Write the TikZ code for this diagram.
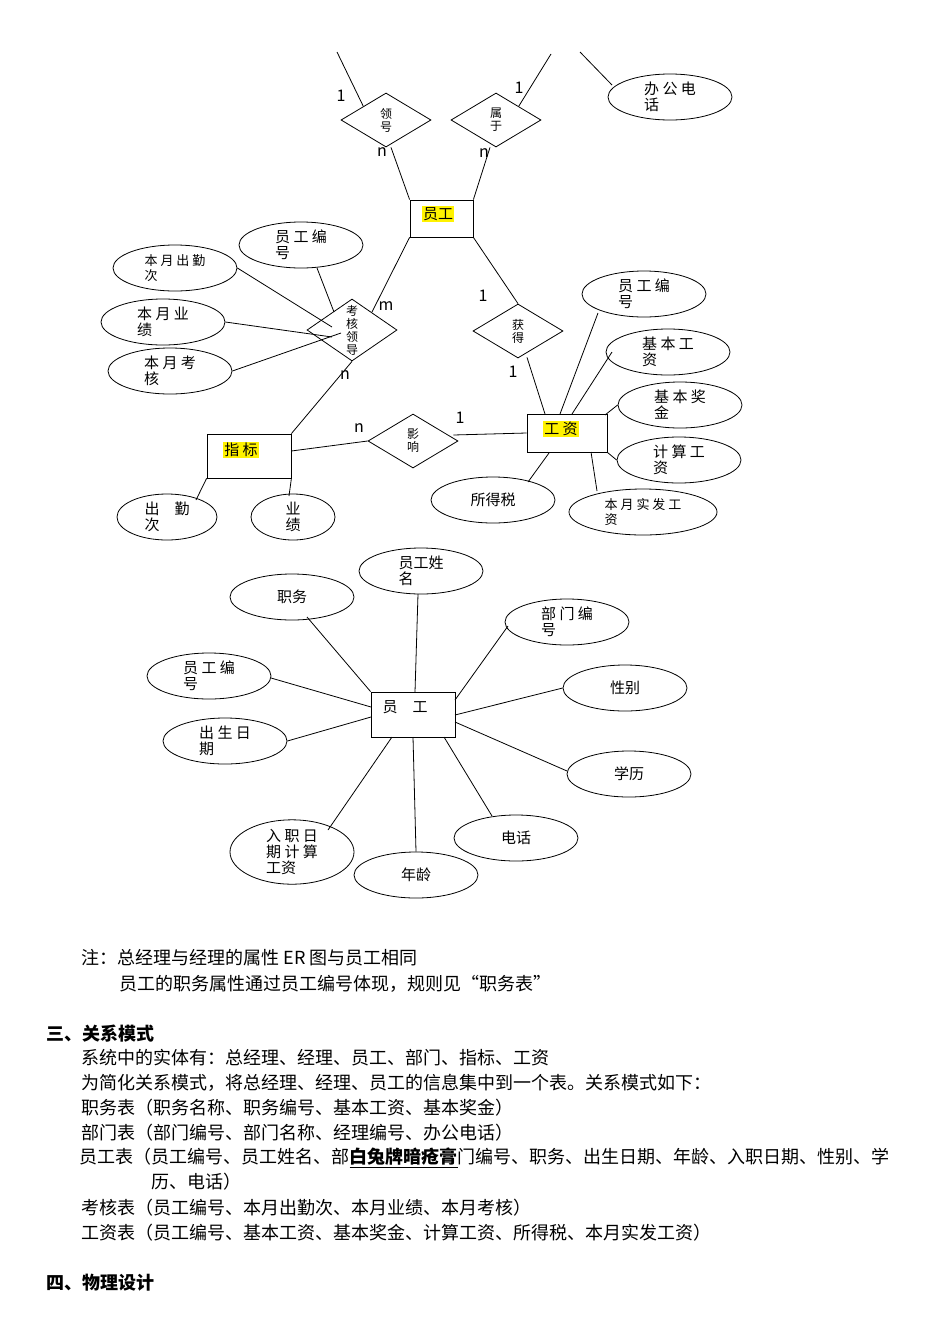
\documentclass[tikz,border=0pt]{standalone}
\usepackage{fontspec}
\setmainfont{Noto Sans CJK SC}
\usetikzlibrary{shapes.geometric}
\begin{document}
\begin{tikzpicture}[x=1pt,y=-1pt,line width=0.8pt,
  ell/.style={draw,ellipse,minimum width=124pt,minimum height=46pt,inner sep=0pt,font=\fontsize{15}{16}\selectfont,align=left},
  dia/.style={draw,diamond,minimum width=90pt,minimum height=54pt,inner sep=0pt,font=\fontsize{12}{13}\selectfont,align=center},
  ent/.style={draw,rectangle,inner sep=0pt},
  hl/.style={fill=yellow,inner sep=1pt,font=\fontsize{15}{17}\selectfont},
  card/.style={font=\fontsize{16}{17}\selectfont\rmfamily},
  txt/.style={anchor=west,font=\fontsize{18}{20}\selectfont}]
\useasboundingbox (0,0) rectangle (950,1344);
% ---------- top diagram ----------
\coordinate (t1) at (337,52); \coordinate (t2) at (551,54); \coordinate (t3) at (580,52);
\node[dia] (ld) at (386,120) {领\\号};
\node[dia] (sy) at (496,120) {属\\于};
\node[ell] (bg) at (670,97) {办 公 电\\话};
\node[ent,minimum width=63pt,minimum height=37pt] (yg) at (441.5,218.5) {};
\node[hl] at (438,214) {员工};
\draw (t1) -- (ld.north west);
\draw (t2) -- (sy.north east);
\draw (t3) -- (612,85);
\draw (ld.south) ++(5,0) coordinate (ldb) (ldb) -- (yg.north west);
\draw (sy.south) ++(-6,0) coordinate (syb) (syb) -- (yg.north east);
\node[card] at (341,96) {1};
\node[card] at (382,152) {n};
\node[card] at (519,88) {1};
\node[card] at (484,153) {n};
\node[dia] (kh) at (352,330) {考\\核\\领\\导};
\node[ell] (e1) at (301,245) {员 工 编\\号};
\node[ell,font=\fontsize{13}{15}\selectfont] (e2) at (175,268) {本 月 出 勤\\次};
\node[ell] (e3) at (163,322) {本 月 业\\绩};
\node[ell] (e4) at (170,371) {本 月 考\\核};
\draw (yg.south west) -- (372,312);
\node[card] at (386,306) {m};
\draw (317,268) -- (334,312);
\draw (e2.east) -- (332,327);
\draw (e3.east) -- (332,337);
\draw (e4.east) -- (341,333);
\node[ent,minimum width=84pt,minimum height=44pt] (zb) at (249,456) {};
\node[hl] at (241,450) {指 标};
\draw (kh.south) -- (zb.north east);
\node[card] at (345,375) {n};
\node[dia] (yx) at (413,441) {影\\响};
\node[ent,minimum width=80pt,minimum height=38pt] (gz) at (567,433) {};
\node[hl] at (561,429) {工 资};
\draw (zb.east) ++(0,-5) -- (yx.west);
\draw (yx.east) ++(-5,-6) coordinate (yxe) (yxe) -- (gz.west);
\node[card] at (359,428) {n};
\node[card] at (460,418) {1};
\node[dia] (hd) at (518,331) {获\\得};
\draw (yg.south east) -- (hd.north);
\draw (hd.south) ++(9,-1) coordinate (hdb) (hdb) -- (545,414);
\node[card] at (483,296) {1};
\node[card] at (513,372) {1};
\node[ell] (r1) at (644,294) {员 工 编\\号};
\node[ell] (r2) at (668,352) {基 本 工\\资};
\node[ell] (r3) at (680,405) {基 本 奖\\金};
\node[ell] (r4) at (679,460) {计 算 工\\资};
\node[ell] (r5) at (493,500) {所得税};
\node[ell,minimum width=148pt,font=\fontsize{13}{15}\selectfont] (r6) at (643,512) {本 月 实 发 工\\资};
\draw (598,313) -- (560,414);
\draw (612,352) -- (572,414);
\draw (r3.west) -- (605,415);
\draw (gz.south east) -- (r4.west);
\draw (549,453) -- (528,482);
\draw (591,452) -- (597,491);
\node[ell,minimum width=100pt] (b1) at (167,517) {出　勤\\次};
\node[ell,minimum width=84pt] (b2) at (293,517) {业\\绩};
\draw (zb.south west) -- (196,500);
\draw (zb.south east) -- (289,496);
% ---------- second diagram ----------
\node[ent,minimum width=84pt,minimum height=45pt] (y2) at (413,714.5) {};
\node[font=\fontsize{15}{17}\selectfont] at (405,707) {员　工};
\node[ell] (f1) at (292,597) {职务};
\node[ell] (f2) at (421,571) {员工姓\\名};
\node[ell] (f3) at (567,622) {部 门 编\\号};
\node[ell] (f4) at (625,688) {性别};
\node[ell] (f5) at (629,774) {学历};
\node[ell] (f6) at (516,838) {电话};
\node[ell] (f7) at (416,875) {年龄};
\node[ell] (f8) at (292,852) {入 职 日\\期 计 算\\工资};
\node[ell] (f9) at (225,741) {出 生 日\\期};
\node[ell] (f10) at (209,676) {员 工 编\\号};
\draw (307,617) -- (y2.north west);
\draw (418,594) -- (415,692);
\draw (508,626) -- (455,700);
\draw (f4.west) -- (455,715);
\draw (567,771) -- (455,722);
\draw (492,816) -- (444,737);
\draw (f7.north) -- (413,737);
\draw (328,830) -- (392,737);
\draw (f9.east) -- (371,717);
\draw (271,678) -- (371,707);
% ---------- text ----------
\node[txt] at (78,958) {注：总经理与经理的属性 ER 图与员工相同};
\node[txt] at (116,984) {员工的职务属性通过员工编号体现，规则见“职务表”};
\node[txt,font=\fontsize{18}{20}\selectfont\bfseries] at (43,1034) {三、关系模式};
\node[txt] at (78,1058) {系统中的实体有：总经理、经理、员工、部门、指标、工资};
\node[txt] at (78,1083) {为简化关系模式，将总经理、经理、员工的信息集中到一个表。关系模式如下：};
\node[txt] at (78,1108) {职务表（职务名称、职务编号、基本工资、基本奖金）};
\node[txt] at (78,1133) {部门表（部门编号、部门名称、经理编号、办公电话）};
\node[txt] at (76,1158) {员工表（员工编号、员工姓名、部\underline{\textbf{白兔牌暗疮膏}}门编号、职务、出生日期、年龄、入职日期、性别、学};
\node[txt] at (148,1182) {历、电话）};
\node[txt] at (78,1208) {考核表（员工编号、本月出勤次、本月业绩、本月考核）};
\node[txt] at (78,1233) {工资表（员工编号、基本工资、基本奖金、计算工资、所得税、本月实发工资）};
\node[txt,font=\fontsize{18}{20}\selectfont\bfseries] at (43,1283) {四、物理设计};
\end{tikzpicture}
\end{document}
